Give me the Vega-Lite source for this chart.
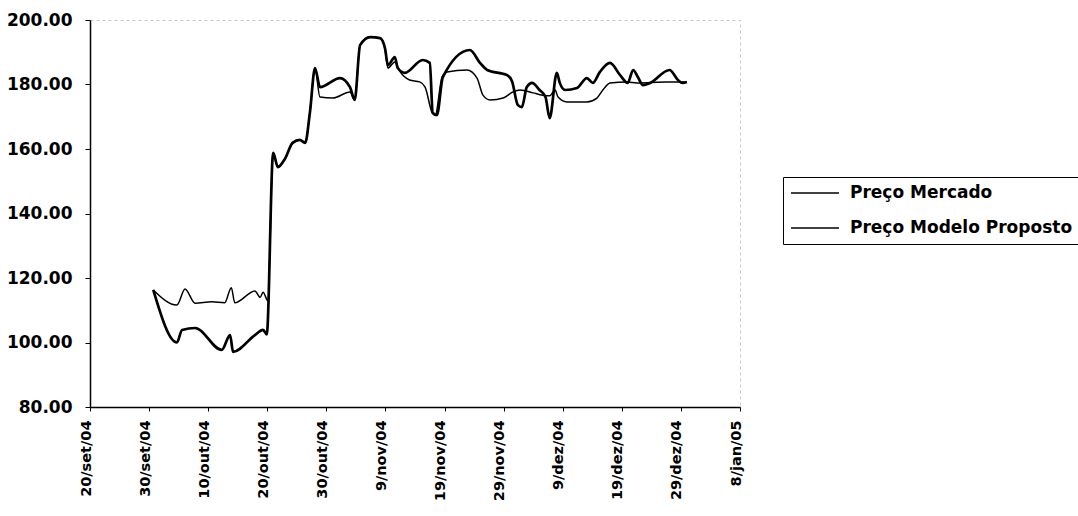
{
  "$schema": "https://vega.github.io/schema/vega-lite/v6.json",
  "width": 650,
  "height": 387,
  "autosize": {"type": "none"},
  "padding": {"left": 90, "top": 20, "right": 338, "bottom": 109},
  "background": "white",
  "config": {
    "view": {"stroke": "#c8c8c8", "strokeDash": [3, 3], "strokeWidth": 1},
    "font": "DejaVu Sans"
  },
  "data": {
    "values": [
      {"date": "2004-09-30T17:00:00Z", "serie": "Preço Mercado", "preco": 116.3},
      {"date": "2004-10-04T17:00:00Z", "serie": "Preço Mercado", "preco": 111.6},
      {"date": "2004-10-06T02:00:00Z", "serie": "Preço Mercado", "preco": 116.6},
      {"date": "2004-10-07T19:00:00Z", "serie": "Preço Mercado", "preco": 112.2},
      {"date": "2004-10-10T14:00:00Z", "serie": "Preço Mercado", "preco": 112.6},
      {"date": "2004-10-12T19:00:00Z", "serie": "Preço Mercado", "preco": 112.3},
      {"date": "2004-10-13T22:00:00Z", "serie": "Preço Mercado", "preco": 117.0},
      {"date": "2004-10-14T12:00:00Z", "serie": "Preço Mercado", "preco": 112.3},
      {"date": "2004-10-17T22:00:00Z", "serie": "Preço Mercado", "preco": 116.0},
      {"date": "2004-10-18T19:00:00Z", "serie": "Preço Mercado", "preco": 114.0},
      {"date": "2004-10-19T07:00:00Z", "serie": "Preço Mercado", "preco": 115.6},
      {"date": "2004-10-20T02:00:00Z", "serie": "Preço Mercado", "preco": 113.0},
      {"date": "2004-10-21T00:00:00Z", "serie": "Preço Mercado", "preco": 158.8},
      {"date": "2004-10-21T19:00:00Z", "serie": "Preço Mercado", "preco": 154.4},
      {"date": "2004-10-23T00:00:00Z", "serie": "Preço Mercado", "preco": 157.0},
      {"date": "2004-10-24T07:00:00Z", "serie": "Preço Mercado", "preco": 161.9},
      {"date": "2004-10-25T12:00:00Z", "serie": "Preço Mercado", "preco": 162.8},
      {"date": "2004-10-26T10:00:00Z", "serie": "Preço Mercado", "preco": 161.9},
      {"date": "2004-10-27T05:00:00Z", "serie": "Preço Mercado", "preco": 171.2},
      {"date": "2004-10-28T02:00:00Z", "serie": "Preço Mercado", "preco": 185.1},
      {"date": "2004-10-28T22:00:00Z", "serie": "Preço Mercado", "preco": 176.1},
      {"date": "2004-10-31T02:00:00Z", "serie": "Preço Mercado", "preco": 175.8},
      {"date": "2004-11-03T00:00:00Z", "serie": "Preço Mercado", "preco": 177.7},
      {"date": "2004-11-03T19:00:00Z", "serie": "Preço Mercado", "preco": 175.2},
      {"date": "2004-11-04T17:00:00Z", "serie": "Preço Mercado", "preco": 192.2},
      {"date": "2004-11-06T10:00:00Z", "serie": "Preço Mercado", "preco": 194.7},
      {"date": "2004-11-08T02:00:00Z", "serie": "Preço Mercado", "preco": 194.4},
      {"date": "2004-11-08T22:00:00Z", "serie": "Preço Mercado", "preco": 191.3},
      {"date": "2004-11-09T10:00:00Z", "serie": "Preço Mercado", "preco": 185.1},
      {"date": "2004-11-10T14:00:00Z", "serie": "Preço Mercado", "preco": 187.0},
      {"date": "2004-11-11T12:00:00Z", "serie": "Preço Mercado", "preco": 183.9},
      {"date": "2004-11-13T02:00:00Z", "serie": "Preço Mercado", "preco": 181.4},
      {"date": "2004-11-14T19:00:00Z", "serie": "Preço Mercado", "preco": 180.8},
      {"date": "2004-11-15T17:00:00Z", "serie": "Preço Mercado", "preco": 179.2},
      {"date": "2004-11-16T22:00:00Z", "serie": "Preço Mercado", "preco": 171.2},
      {"date": "2004-11-17T10:00:00Z", "serie": "Preço Mercado", "preco": 170.5},
      {"date": "2004-11-18T14:00:00Z", "serie": "Preço Mercado", "preco": 182.3},
      {"date": "2004-11-19T10:00:00Z", "serie": "Preço Mercado", "preco": 183.9},
      {"date": "2004-11-22T19:00:00Z", "serie": "Preço Mercado", "preco": 184.5},
      {"date": "2004-11-24T12:00:00Z", "serie": "Preço Mercado", "preco": 182.0},
      {"date": "2004-11-25T12:00:00Z", "serie": "Preço Mercado", "preco": 176.7},
      {"date": "2004-11-26T17:00:00Z", "serie": "Preço Mercado", "preco": 175.2},
      {"date": "2004-11-28T22:00:00Z", "serie": "Preço Mercado", "preco": 175.8},
      {"date": "2004-11-30T14:00:00Z", "serie": "Preço Mercado", "preco": 177.7},
      {"date": "2004-12-01T19:00:00Z", "serie": "Preço Mercado", "preco": 178.3},
      {"date": "2004-12-04T00:00:00Z", "serie": "Preço Mercado", "preco": 177.4},
      {"date": "2004-12-05T14:00:00Z", "serie": "Preço Mercado", "preco": 176.7},
      {"date": "2004-12-06T19:00:00Z", "serie": "Preço Mercado", "preco": 176.5},
      {"date": "2004-12-07T17:00:00Z", "serie": "Preço Mercado", "preco": 178.3},
      {"date": "2004-12-08T05:00:00Z", "serie": "Preço Mercado", "preco": 176.1},
      {"date": "2004-12-09T17:00:00Z", "serie": "Preço Mercado", "preco": 174.6},
      {"date": "2004-12-13T02:00:00Z", "serie": "Preço Mercado", "preco": 174.6},
      {"date": "2004-12-14T19:00:00Z", "serie": "Preço Mercado", "preco": 175.8},
      {"date": "2004-12-15T19:00:00Z", "serie": "Preço Mercado", "preco": 178.3},
      {"date": "2004-12-17T00:00:00Z", "serie": "Preço Mercado", "preco": 180.5},
      {"date": "2004-12-19T22:00:00Z", "serie": "Preço Mercado", "preco": 180.8},
      {"date": "2004-12-21T14:00:00Z", "serie": "Preço Mercado", "preco": 180.5},
      {"date": "2004-12-26T14:00:00Z", "serie": "Preço Mercado", "preco": 180.8},
      {"date": "2004-12-30T00:00:00Z", "serie": "Preço Mercado", "preco": 180.8},

      {"date": "2004-09-30T17:00:00Z", "serie": "Preço Modelo Proposto", "preco": 116.3},
      {"date": "2004-10-04T17:00:00Z", "serie": "Preço Modelo Proposto", "preco": 100.0},
      {"date": "2004-10-05T14:00:00Z", "serie": "Preço Modelo Proposto", "preco": 103.9},
      {"date": "2004-10-07T19:00:00Z", "serie": "Preço Modelo Proposto", "preco": 104.5},
      {"date": "2004-10-12T07:00:00Z", "serie": "Preço Modelo Proposto", "preco": 97.7},
      {"date": "2004-10-13T17:00:00Z", "serie": "Preço Modelo Proposto", "preco": 102.3},
      {"date": "2004-10-14T05:00:00Z", "serie": "Preço Modelo Proposto", "preco": 97.1},
      {"date": "2004-10-17T22:00:00Z", "serie": "Preço Modelo Proposto", "preco": 102.3},
      {"date": "2004-10-19T07:00:00Z", "serie": "Preço Modelo Proposto", "preco": 103.9},
      {"date": "2004-10-19T22:00:00Z", "serie": "Preço Modelo Proposto", "preco": 102.5},
      {"date": "2004-10-21T00:00:00Z", "serie": "Preço Modelo Proposto", "preco": 158.8},
      {"date": "2004-10-21T19:00:00Z", "serie": "Preço Modelo Proposto", "preco": 154.4},
      {"date": "2004-10-23T00:00:00Z", "serie": "Preço Modelo Proposto", "preco": 157.0},
      {"date": "2004-10-24T07:00:00Z", "serie": "Preço Modelo Proposto", "preco": 161.9},
      {"date": "2004-10-25T12:00:00Z", "serie": "Preço Modelo Proposto", "preco": 162.8},
      {"date": "2004-10-26T10:00:00Z", "serie": "Preço Modelo Proposto", "preco": 161.9},
      {"date": "2004-10-27T05:00:00Z", "serie": "Preço Modelo Proposto", "preco": 171.2},
      {"date": "2004-10-28T02:00:00Z", "serie": "Preço Modelo Proposto", "preco": 185.1},
      {"date": "2004-10-28T22:00:00Z", "serie": "Preço Modelo Proposto", "preco": 179.2},
      {"date": "2004-11-01T07:00:00Z", "serie": "Preço Modelo Proposto", "preco": 182.0},
      {"date": "2004-11-03T00:00:00Z", "serie": "Preço Modelo Proposto", "preco": 179.2},
      {"date": "2004-11-03T19:00:00Z", "serie": "Preço Modelo Proposto", "preco": 175.2},
      {"date": "2004-11-04T17:00:00Z", "serie": "Preço Modelo Proposto", "preco": 192.2},
      {"date": "2004-11-06T10:00:00Z", "serie": "Preço Modelo Proposto", "preco": 194.7},
      {"date": "2004-11-08T02:00:00Z", "serie": "Preço Modelo Proposto", "preco": 194.4},
      {"date": "2004-11-08T22:00:00Z", "serie": "Preço Modelo Proposto", "preco": 191.3},
      {"date": "2004-11-09T10:00:00Z", "serie": "Preço Modelo Proposto", "preco": 186.0},
      {"date": "2004-11-10T14:00:00Z", "serie": "Preço Modelo Proposto", "preco": 188.5},
      {"date": "2004-11-11T02:00:00Z", "serie": "Preço Modelo Proposto", "preco": 185.1},
      {"date": "2004-11-12T07:00:00Z", "serie": "Preço Modelo Proposto", "preco": 183.6},
      {"date": "2004-11-15T07:00:00Z", "serie": "Preço Modelo Proposto", "preco": 187.6},
      {"date": "2004-11-16T12:00:00Z", "serie": "Preço Modelo Proposto", "preco": 186.7},
      {"date": "2004-11-17T00:00:00Z", "serie": "Preço Modelo Proposto", "preco": 171.2},
      {"date": "2004-11-17T17:00:00Z", "serie": "Preço Modelo Proposto", "preco": 170.5},
      {"date": "2004-11-18T17:00:00Z", "serie": "Preço Modelo Proposto", "preco": 182.3},
      {"date": "2004-11-23T07:00:00Z", "serie": "Preço Modelo Proposto", "preco": 190.7},
      {"date": "2004-11-25T00:00:00Z", "serie": "Preço Modelo Proposto", "preco": 186.7},
      {"date": "2004-11-26T05:00:00Z", "serie": "Preço Modelo Proposto", "preco": 184.5},
      {"date": "2004-11-29T14:00:00Z", "serie": "Preço Modelo Proposto", "preco": 182.9},
      {"date": "2004-11-30T10:00:00Z", "serie": "Preço Modelo Proposto", "preco": 181.0},
      {"date": "2004-12-01T10:00:00Z", "serie": "Preço Modelo Proposto", "preco": 173.6},
      {"date": "2004-12-02T02:00:00Z", "serie": "Preço Modelo Proposto", "preco": 173.0},
      {"date": "2004-12-02T22:00:00Z", "serie": "Preço Modelo Proposto", "preco": 179.2},
      {"date": "2004-12-03T19:00:00Z", "serie": "Preço Modelo Proposto", "preco": 180.5},
      {"date": "2004-12-05T02:00:00Z", "serie": "Preço Modelo Proposto", "preco": 178.3},
      {"date": "2004-12-06T02:00:00Z", "serie": "Preço Modelo Proposto", "preco": 176.1},
      {"date": "2004-12-06T19:00:00Z", "serie": "Preço Modelo Proposto", "preco": 169.6},
      {"date": "2004-12-08T00:00:00Z", "serie": "Preço Modelo Proposto", "preco": 183.6},
      {"date": "2004-12-08T12:00:00Z", "serie": "Preço Modelo Proposto", "preco": 180.5},
      {"date": "2004-12-09T10:00:00Z", "serie": "Preço Modelo Proposto", "preco": 178.3},
      {"date": "2004-12-11T10:00:00Z", "serie": "Preço Modelo Proposto", "preco": 178.9},
      {"date": "2004-12-13T02:00:00Z", "serie": "Preço Modelo Proposto", "preco": 182.0},
      {"date": "2004-12-14T02:00:00Z", "serie": "Preço Modelo Proposto", "preco": 180.5},
      {"date": "2004-12-15T07:00:00Z", "serie": "Preço Modelo Proposto", "preco": 183.9},
      {"date": "2004-12-17T00:00:00Z", "serie": "Preço Modelo Proposto", "preco": 186.7},
      {"date": "2004-12-18T17:00:00Z", "serie": "Preço Modelo Proposto", "preco": 182.9},
      {"date": "2004-12-20T00:00:00Z", "serie": "Preço Modelo Proposto", "preco": 180.5},
      {"date": "2004-12-20T22:00:00Z", "serie": "Preço Modelo Proposto", "preco": 184.5},
      {"date": "2004-12-21T17:00:00Z", "serie": "Preço Modelo Proposto", "preco": 182.3},
      {"date": "2004-12-22T14:00:00Z", "serie": "Preço Modelo Proposto", "preco": 179.8},
      {"date": "2004-12-23T19:00:00Z", "serie": "Preço Modelo Proposto", "preco": 180.5},
      {"date": "2004-12-27T02:00:00Z", "serie": "Preço Modelo Proposto", "preco": 184.5},
      {"date": "2004-12-28T12:00:00Z", "serie": "Preço Modelo Proposto", "preco": 181.4},
      {"date": "2004-12-29T07:00:00Z", "serie": "Preço Modelo Proposto", "preco": 180.5},
      {"date": "2004-12-30T00:00:00Z", "serie": "Preço Modelo Proposto", "preco": 180.8}
    ]
  },
  "mark": {"type": "line", "interpolate": "monotone"},
  "encoding": {
    "x": {
      "field": "date",
      "type": "temporal",
      "scale": {
        "type": "utc",
        "domain": [
          {"year": 2004, "month": 9, "date": 20, "utc": true},
          {"year": 2005, "month": 1, "date": 8, "utc": true}
        ]
      },
      "axis": {
        "title": null,
        "grid": false,
        "values": [
          {"year": 2004, "month": 9, "date": 20, "utc": true},
          {"year": 2004, "month": 9, "date": 30, "utc": true},
          {"year": 2004, "month": 10, "date": 10, "utc": true},
          {"year": 2004, "month": 10, "date": 20, "utc": true},
          {"year": 2004, "month": 10, "date": 30, "utc": true},
          {"year": 2004, "month": 11, "date": 9, "utc": true},
          {"year": 2004, "month": 11, "date": 19, "utc": true},
          {"year": 2004, "month": 11, "date": 29, "utc": true},
          {"year": 2004, "month": 12, "date": 9, "utc": true},
          {"year": 2004, "month": 12, "date": 19, "utc": true},
          {"year": 2004, "month": 12, "date": 29, "utc": true},
          {"year": 2005, "month": 1, "date": 8, "utc": true}
        ],
        "labelExpr": "utcdate(datum.value) + '/' + ['jan','fev','mar','abr','mai','jun','jul','ago','set','out','nov','dez'][utcmonth(datum.value)] + '/' + utcFormat(datum.value, '%y')",
        "labelAngle": -90,
        "labelAlign": "right",
        "labelBaseline": "alphabetic",
        "labelFont": "DejaVu Sans",
        "labelFontSize": 14.5,
        "labelFontWeight": "bold",
        "labelColor": "black",
        "labelPadding": 9,
        "labelOverlap": false,
        "labelFlush": false,
        "tickSize": 4,
        "tickColor": "black",
        "domainColor": "black",
        "domainWidth": 1.5
      }
    },
    "y": {
      "field": "preco",
      "type": "quantitative",
      "scale": {"domain": [80, 200], "nice": false, "zero": false},
      "axis": {
        "title": null,
        "grid": false,
        "values": [80, 100, 120, 140, 160, 180, 200],
        "format": ".2f",
        "labelFont": "DejaVu Sans",
        "labelFontSize": 17,
        "labelFontWeight": "bold",
        "labelColor": "black",
        "labelPadding": 13,
        "tickSize": 5,
        "tickColor": "black",
        "domainColor": "black",
        "domainWidth": 1.5
      }
    },
    "color": {
      "field": "serie",
      "type": "nominal",
      "scale": {"domain": ["Preço Mercado", "Preço Modelo Proposto"], "range": ["black", "black"]},
      "legend": {
        "title": null,
        "orient": "none",
        "legendX": 693,
        "legendY": 157,
        "symbolType": "stroke",
        "symbolSize": 2304,
        "symbolStrokeWidth": 1.5,
        "clipHeight": 18,
        "rowPadding": 17,
        "padding": 7,
        "labelOffset": 10,
        "labelFont": "DejaVu Sans",
        "labelFontSize": 17,
        "labelFontWeight": "bold",
        "labelColor": "black",
        "labelLimit": 400,
        "strokeColor": "black",
        "fillColor": "white"
      }
    },
    "strokeWidth": {
      "condition": {"test": "datum.serie === 'Preço Modelo Proposto'", "value": 2.7},
      "value": 1.5
    }
  }
}
